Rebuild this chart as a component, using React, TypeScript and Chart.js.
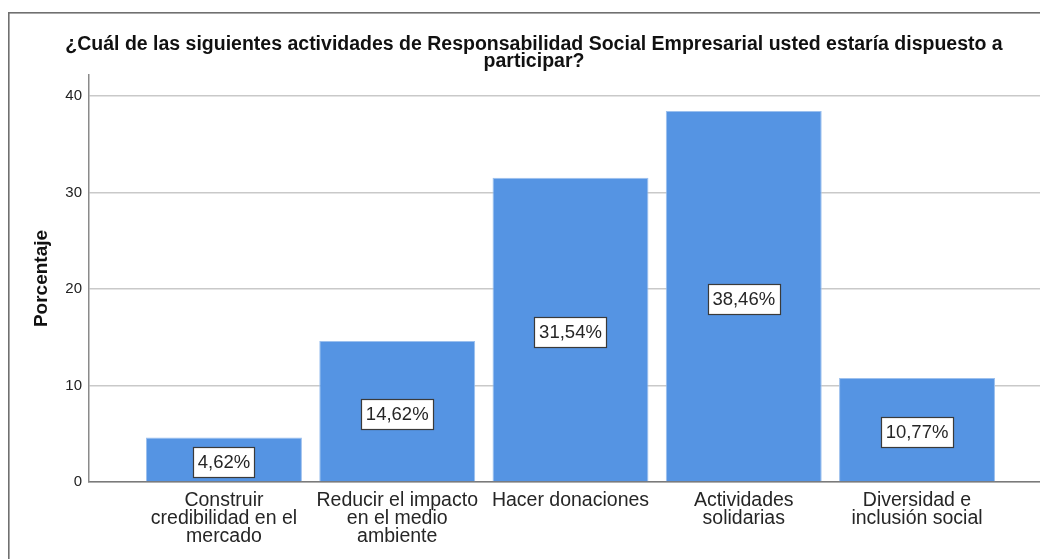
import React, { useEffect, useRef } from "react";
import { Chart, registerables } from "chart.js";

Chart.register(...registerables);

const titleLines = [
  "¿Cuál de las siguientes actividades de Responsabilidad Social Empresarial usted estaría dispuesto a",
  "participar?",
];
const yAxisTitle = "Porcentaje";
const categories = [
  ["Construir", "credibilidad en el", "mercado"],
  ["Reducir el impacto", "en el medio", "ambiente"],
  ["Hacer donaciones"],
  ["Actividades", "solidarias"],
  ["Diversidad e", "inclusión social"],
];
const percentages = [4.62, 14.62, 31.54, 38.46, 10.77];
const valueLabels = ["4,62%", "14,62%", "31,54%", "38,46%", "10,77%"];
const yTicks = [0, 10, 20, 30, 40];

const FONT = "'Liberation Sans', Arial, sans-serif";

const frameAndTitle = {
  id: "frameAndTitle",
  beforeDraw(chart: any) {
    const ctx = chart.ctx;
    ctx.save();
    ctx.fillStyle = "#ffffff";
    ctx.fillRect(0, 0, chart.width, chart.height);
    ctx.fillStyle = "#707070";
    ctx.fillRect(0, 4, 1.6, chart.height);
    ctx.fillRect(0, 4, chart.width, 1.6);
    ctx.restore();
  },
  afterDraw(chart: any) {
    const ctx = chart.ctx;
    ctx.save();
    ctx.fillStyle = "#111111";
    ctx.font = `bold 19.5px ${FONT}`;
    ctx.textAlign = "center";
    ctx.textBaseline = "middle";
    titleLines.forEach((line, i) => {
      ctx.fillText(line, 526, 37 + i * 17);
    });
    ctx.restore();
  },
};

const valueBoxes = {
  id: "valueBoxes",
  afterDatasetsDraw(chart: any) {
    const ctx = chart.ctx;
    const meta = chart.getDatasetMeta(0);
    ctx.save();
    ctx.font = `18.5px ${FONT}`;
    ctx.textAlign = "center";
    ctx.textBaseline = "middle";
    meta.data.forEach((bar: any, i: number) => {
      const text = valueLabels[i];
      const cx = bar.x;
      const cy = (bar.y + bar.base) / 2 + 2.5;
      const tw = ctx.measureText(text).width;
      const w = Math.round(tw + 9);
      const h = 30;
      const x0 = Math.round(cx - w / 2) + 0.5;
      const y0 = Math.round(cy - h / 2) + 0.5;
      ctx.fillStyle = "#ffffff";
      ctx.fillRect(x0, y0, w, h);
      ctx.strokeStyle = "#3a3a3a";
      ctx.lineWidth = 1.2;
      ctx.strokeRect(x0, y0, w, h);
      ctx.fillStyle = "#262626";
      ctx.fillText(text, cx, cy + 1);
    });
    ctx.restore();
  },
};

export default function App() {
  const ref = useRef<HTMLCanvasElement | null>(null);

  useEffect(() => {
    document.documentElement.style.overflow = "hidden";
    document.body.style.overflow = "hidden";
    const canvas = ref.current;
    if (!canvas) return;
    const chart = new Chart(canvas, {
      type: "bar",
      data: {
        datasets: [
          {
            data: percentages.map((v, i) => ({ x: i, y: v })),
            backgroundColor: "#5594E3",
            borderColor: "#9CC0EE",
            borderWidth: 1,
            categoryPercentage: 1,
            barPercentage: 0.9,
          },
        ],
      },
      options: {
        animation: false,
        responsive: false,
        devicePixelRatio: 1,
        layout: { padding: { top: 67, left: 0, right: 0, bottom: 0 } },
        plugins: {
          legend: { display: false },
          tooltip: { enabled: false },
          title: { display: false },
        },
        scales: {
          x: {
            type: "linear",
            offset: false,
            min: -0.779,
            max: 4.756,
            grid: { display: false, drawTicks: false, offset: false },
            border: { display: true, color: "#7a7a7a", width: 1.5 },
            afterBuildTicks(scale: any) {
              scale.ticks = categories.map((_, i) => ({ value: i }));
            },
            afterFit(scale: any) {
              scale.height = 77;
            },
            ticks: {
              padding: 10,
              autoSkip: false,
              maxRotation: 0,
              color: "#262626",
              font: { family: FONT, size: 19.5, lineHeight: "18px" },
              callback: (value: any) => categories[Math.round(Number(value))] ?? "",
            },
          },
          y: {
            min: 0,
            max: 42.18,
            grid: { color: "#c9c9c9", lineWidth: 1.5, drawTicks: false },
            border: { display: true, color: "#8a8a8a", width: 1.5 },
            afterBuildTicks(scale: any) {
              scale.ticks = yTicks.map((v) => ({ value: v }));
            },
            afterFit(scale: any) {
              scale.width = 81;
            },
            ticks: {
              padding: 7,
              color: "#222222",
              font: { family: FONT, size: 15 },
            },
            title: {
              display: true,
              text: yAxisTitle,
              color: "#111111",
              font: { family: FONT, size: 19, weight: "bold", lineHeight: 1.2 },
              padding: { top: 22, bottom: 0 },
            },
          },
        },
      },
      plugins: [frameAndTitle, valueBoxes],
    });
    return () => chart.destroy();
  }, []);

  return (
    <div style={{ width: 1040, height: 551 }}>
      <canvas ref={ref} width={1040} height={551} style={{ display: "block" }} />
    </div>
  );
}
